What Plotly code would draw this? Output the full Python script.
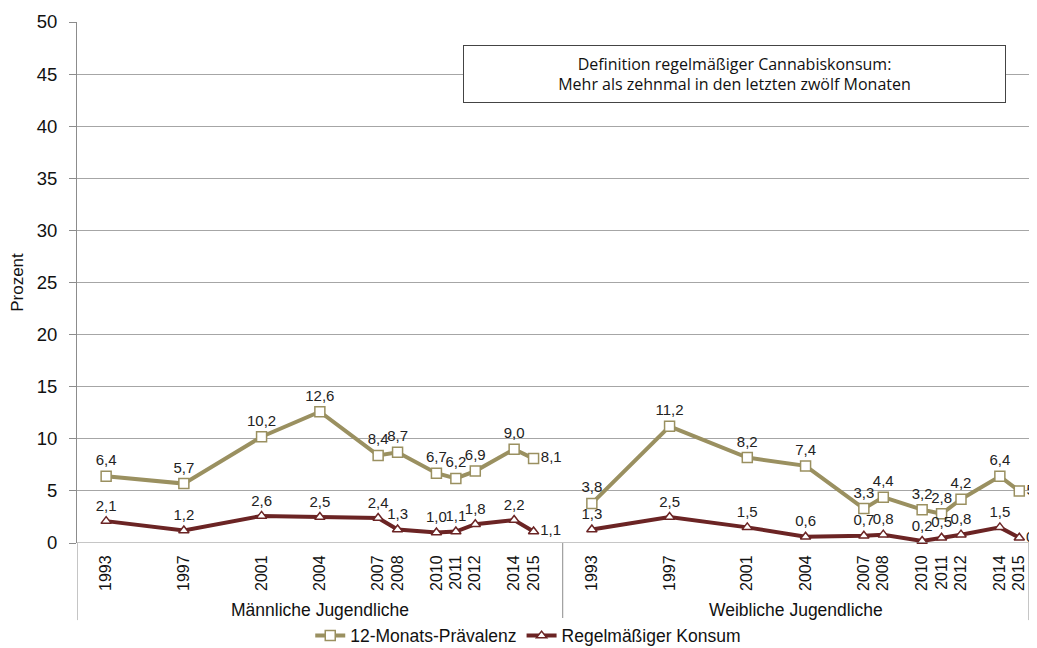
import plotly.graph_objects as go

years = [1993, 1997, 2001, 2004, 2007, 2008, 2010, 2011, 2012, 2014, 2015]
groups = ["Männliche Jugendliche", "Weibliche Jugendliche"]
male_12m = [6.4, 5.7, 10.2, 12.6, 8.4, 8.7, 6.7, 6.2, 6.9, 9.0, 8.1]
male_reg = [2.1, 1.2, 2.6, 2.5, 2.4, 1.3, 1.0, 1.1, 1.8, 2.2, 1.1]
female_12m = [3.8, 11.2, 8.2, 7.4, 3.3, 4.4, 3.2, 2.8, 4.2, 6.4, 5.0]
female_reg = [1.3, 2.5, 1.5, 0.6, 0.7, 0.8, 0.2, 0.5, 0.8, 1.5, 0.5]
series_names = ["12-Monats-Prävalenz", "Regelmäßiger Konsum"]
y_ticks = list(range(0, 55, 5))

# category-axis layout: one slot per year, groups separated by dividers
offsets = [1.5, 26.5]
dividers = [0, 25, 49]

def xs(g):
    return [y - years[0] + offsets[g] for y in years]

x_all = xs(0) + [None] + xs(1)
olive = "#9A9060"
maroon = "#6B2424"

def positions():
    p = ["top center"] * (len(years) - 1) + ["middle right"]
    return p + ["top center"] + p

fig = go.Figure()
fig.add_trace(go.Scatter(
    x=x_all, y=male_12m + [None] + female_12m, name=series_names[0],
    mode="lines+markers+text", line=dict(color=olive, width=4),
    marker=dict(symbol="square", size=10, color="white", line=dict(color=olive, width=1.5)),
    texttemplate="%{y:.1f}", textposition=positions(),
    textfont=dict(size=15, color="#222", family="Liberation Sans"), cliponaxis=False,
))
fig.add_trace(go.Scatter(
    x=x_all, y=male_reg + [None] + female_reg, name=series_names[1],
    mode="lines+markers+text", line=dict(color=maroon, width=4),
    marker=dict(symbol="triangle-up", size=9, color="white", line=dict(color=maroon, width=1.5)),
    texttemplate="%{y:.1f}", textposition=positions(),
    textfont=dict(size=15, color="#222", family="Liberation Sans"), cliponaxis=False,
))

tickvals = xs(0) + xs(1)
ticktext = [str(y) for y in years] * 2

fig.update_layout(
    width=1029, height=640,
    margin=dict(l=69, r=8, t=14, b=105, autoexpand=False),
    paper_bgcolor="white", plot_bgcolor="white",
    separators=",.",
    font=dict(family="Liberation Sans", color="#111"),
    showlegend=True,
    legend=dict(orientation="h", x=0.474, xanchor="center", y=-0.178, yanchor="middle",
                font=dict(size=17.5, family="Liberation Sans"), itemwidth=30, tracegroupgap=0),
    xaxis=dict(range=[0, 49], tickvals=tickvals, ticktext=ticktext, tickangle=-90,
               tickfont=dict(size=16), showgrid=False, zeroline=False, automargin=False,
               showline=False, ticks="outside", ticklen=5, tickcolor="rgba(0,0,0,0)"),
    yaxis=dict(range=[0, 50], tickvals=y_ticks, tickfont=dict(size=18.5), automargin=False,
               showgrid=True, gridcolor="#A6A6A6", gridwidth=1, zeroline=False,
               showline=True, linecolor="#8C8C8C", ticks="outside", ticklen=7, tickcolor="#8C8C8C",
               ticklabelstandoff=8,
               title=dict(text="Prozent", font=dict(size=17), standoff=10)),
)

# bottom axis line
fig.add_shape(type="line", xref="paper", yref="y", x0=0, x1=1, y0=0, y1=0,
              line=dict(color="#8C8C8C", width=1))
# group dividers
for d in dividers:
    fig.add_shape(type="line", xref="x", yref="paper", x0=d, x1=d, y0=0, y1=-0.148,
                  line=dict(color="#8C8C8C", width=1))
# group labels centred under each group
for g in range(2):
    fig.add_annotation(x=(dividers[g] + dividers[g + 1]) / 2, xref="x", y=-0.1286, yref="paper",
                       text=groups[g], showarrow=False, font=dict(size=17.5), yanchor="middle")

fig.add_annotation(
    x=0.691, xref="paper", y=0.901, yref="paper", xanchor="center", yanchor="middle",
    text="Definition regelmäßiger Cannabiskonsum:<br>Mehr als zehnmal in den letzten zwölf Monaten",
    showarrow=False, font=dict(size=16, family="Open Sans", color="#111"),
    bordercolor="#444", borderwidth=1, borderpad=8, bgcolor="white",
    width=525, height=40, align="center",
)

fig.write_html("out.html")
